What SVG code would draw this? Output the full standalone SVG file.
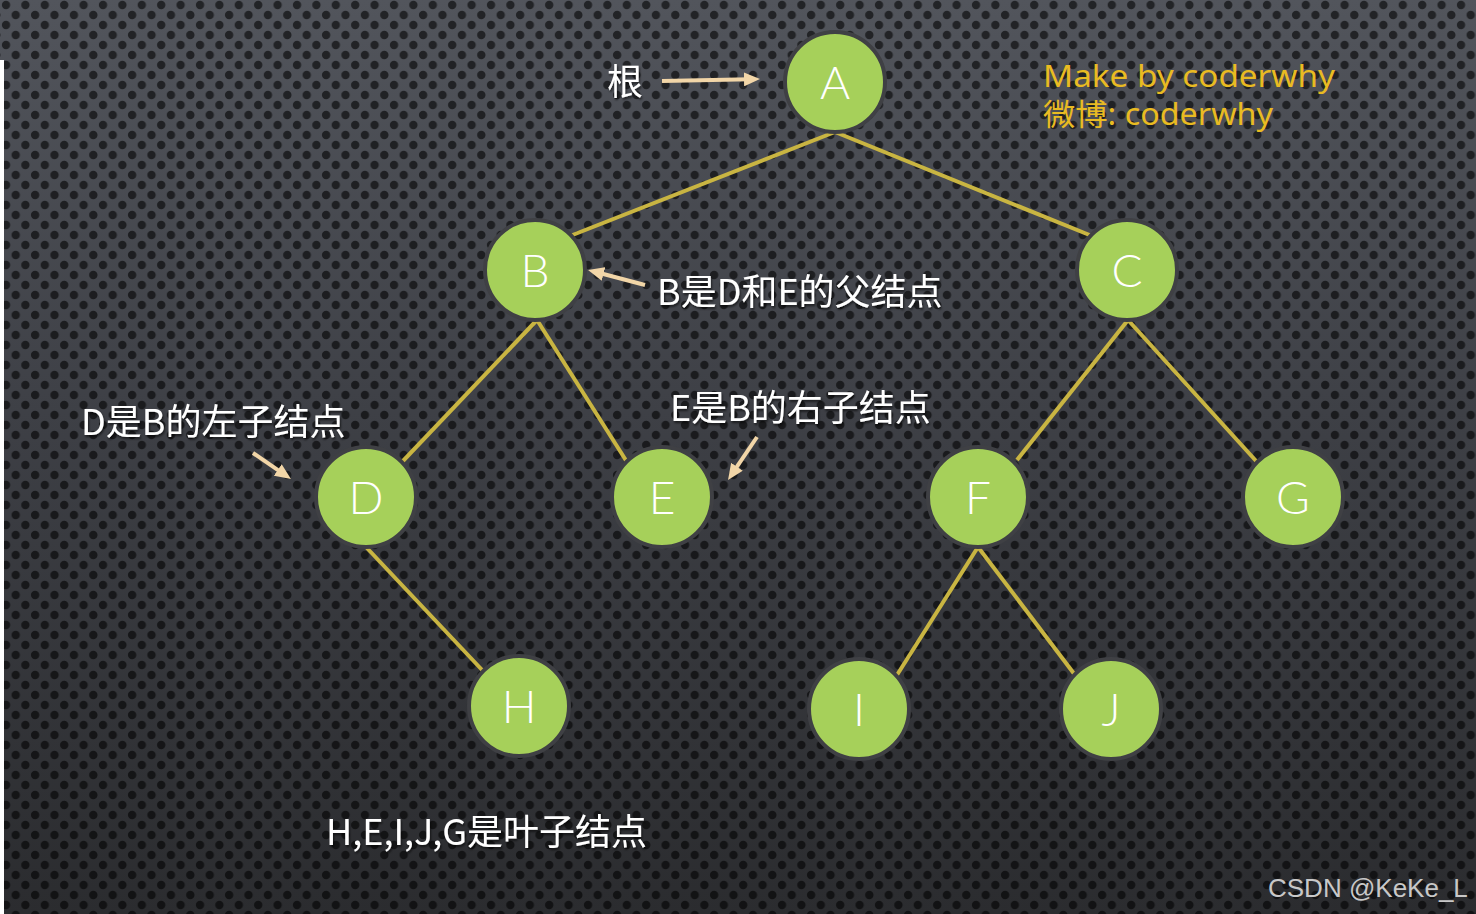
<svg xmlns="http://www.w3.org/2000/svg" width="1476" height="914" viewBox="0 0 1476 914">
<defs>
<linearGradient id="bg" x1="0" y1="0" x2="0" y2="1">
<stop offset="0" stop-color="#52555c"/>
<stop offset="0.45" stop-color="#3e4046"/>
<stop offset="1" stop-color="#2b2c2f"/>
</linearGradient>
<pattern id="dots" patternUnits="userSpaceOnUse" width="19.4" height="20" x="0" y="0">
<circle cx="6" cy="5" r="4.2" fill="#000" fill-opacity="0.58"/>
<circle cx="15.7" cy="15" r="4.2" fill="#000" fill-opacity="0.58"/>
<circle cx="-3.7" cy="15" r="4.2" fill="#000" fill-opacity="0.58"/>
<circle cx="25.4" cy="5" r="4.2" fill="#000" fill-opacity="0.58"/>
</pattern>
<marker id="ah" viewBox="0 0 16 14" refX="6" refY="7" markerWidth="16" markerHeight="14" markerUnits="userSpaceOnUse" orient="auto">
<path d="M0,0 L16,7 L0,14 z" fill="#f2d6a8"/>
</marker>
<filter id="sh" x="-10%" y="-10%" width="120%" height="130%">
<feDropShadow dx="1" dy="2" stdDeviation="1.2" flood-color="#000" flood-opacity="0.6"/>
</filter>
</defs>
<style>
.edge{stroke:#c9b542;stroke-width:4;fill:none}
.arrow{stroke:#f2d6a8;stroke-width:4;fill:none;marker-end:url(#ah)}
.node circle{fill:#a6d05a;stroke:#3f4044;stroke-width:4}
.node text{fill:#fff;font-family:Lato,"Open Sans",sans-serif;font-weight:300;font-size:46px;text-anchor:middle}
.lbl{fill:#fff;font-family:"Noto Sans CJK SC","Noto Sans",sans-serif;font-size:36px;filter:url(#sh)}
.gold{fill:#e9bb22;font-family:"Noto Sans","Noto Sans CJK SC",sans-serif;font-size:30px}
.wm{fill:#c8c8c8;font-family:"Liberation Sans",Arial,sans-serif;font-size:26px}
</style>
<rect width="1476" height="914" fill="url(#bg)"/>
<rect width="1476" height="914" fill="url(#dots)"/>
<rect x="0" y="60" width="4" height="854" fill="#ffffff"/>

<g id="connectors">
<line class="edge" x1="835" y1="132" x2="570" y2="236"/>
<line class="edge" x1="835" y1="132" x2="1092" y2="236"/>
<line class="edge" x1="537" y1="320" x2="402" y2="462"/>
<line class="edge" x1="537" y1="320" x2="627" y2="462"/>
<line class="edge" x1="1128" y1="320" x2="1017" y2="460"/>
<line class="edge" x1="1128" y1="320" x2="1257" y2="462"/>
<line class="edge" x1="366" y1="547" x2="484" y2="672"/>
<line class="edge" x1="978" y1="547" x2="897" y2="675"/>
<line class="edge" x1="978" y1="547" x2="1075" y2="675"/>
<line class="arrow" x1="662" y1="81" x2="750" y2="79.2"/>
<line class="arrow" x1="645" y1="285" x2="597.7" y2="272.5"/>
<line class="arrow" x1="253" y1="453" x2="282.7" y2="473.3"/>
<line class="arrow" x1="757" y1="437" x2="733.6" y2="471.7"/>
</g>

<g id="node-A" class="node"><circle cx="835" cy="82" r="50"/><text x="835" y="99">A</text></g>
<g id="node-B" class="node"><circle cx="535" cy="270" r="50"/><text x="535" y="287">B</text></g>
<g id="node-C" class="node"><circle cx="1127" cy="270" r="50"/><text x="1127" y="287">C</text></g>
<g id="node-D" class="node"><circle cx="366" cy="497" r="50"/><text x="366" y="514">D</text></g>
<g id="node-E" class="node"><circle cx="662" cy="497" r="50"/><text x="662" y="514">E</text></g>
<g id="node-F" class="node"><circle cx="978" cy="497" r="50"/><text x="978" y="514">F</text></g>
<g id="node-G" class="node"><circle cx="1293" cy="497" r="50"/><text x="1293" y="514">G</text></g>
<g id="node-H" class="node"><circle cx="519" cy="706" r="50"/><text x="519" y="723">H</text></g>
<g id="node-I" class="node"><circle cx="859" cy="709" r="50"/><text x="859" y="726">I</text></g>
<g id="node-J" class="node"><circle cx="1111" cy="709" r="50"/><text x="1111" y="726">J</text></g>

<g id="labels">
<text class="lbl" x="607" y="95">根</text>
<text class="lbl" x="657" y="305">B是D和E的父结点</text>
<text class="lbl" x="81" y="435">D是B的左子结点</text>
<text class="lbl" x="670" y="421">E是B的右子结点</text>
<text class="lbl" x="326" y="845">H,E,I,J,G是叶子结点</text>
<text class="gold" x="1043" y="87" textLength="292" lengthAdjust="spacingAndGlyphs">Make by coderwhy</text>
<text class="gold" x="1043" y="125" textLength="230" lengthAdjust="spacingAndGlyphs">微博: coderwhy</text>
<text class="wm" x="1268" y="897">CSDN @KeKe_L</text>
</g>
</svg>
